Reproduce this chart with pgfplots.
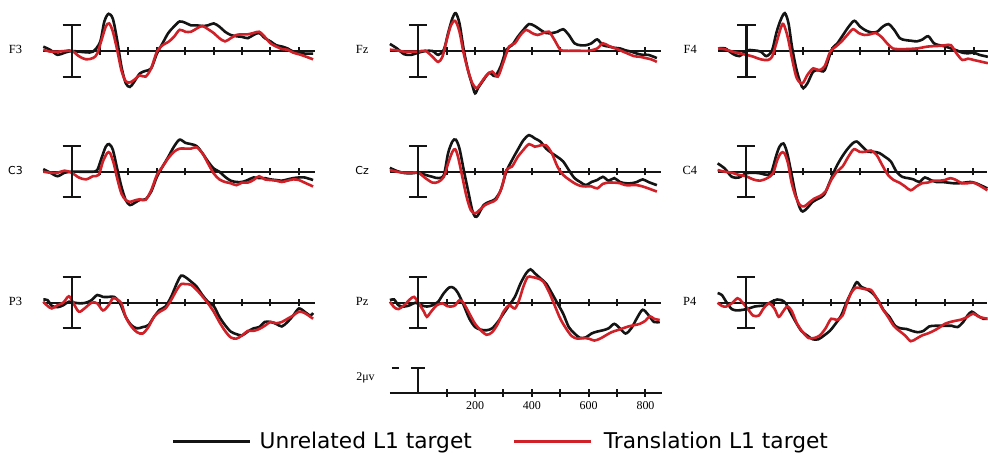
\documentclass[border=0pt]{standalone}
\usepackage{fontspec}
\setmainfont{Liberation Serif}
\newfontfamily\legendfont{DejaVu Sans}
\usepackage{pgfplots}
\pgfplotsset{compat=1.18}
\definecolor{erpred}{RGB}{208,32,40}
\definecolor{erpblack}{RGB}{20,20,20}
\pgfplotsset{
 erp/.style={
  x=0.284bp, y=12.83bp,
  xmin=-100, xmax=855, ymin=-4, ymax=4,
  axis x line=middle, axis y line=none,
  axis line style={-, line width=2.2bp, erpblack},
  xtick={100,200,...,800}, xticklabels={},
  major tick length=7.5bp, tick align=center,
  xtick style={line width=2bp, erpblack},
  ytick=\empty,
  clip=false, anchor=south west,
 },
 blk/.style={erpblack, line width=2.6bp, smooth, no markers},
 rd/.style={erpred, line width=2.6bp, smooth, no markers},
}
\newcommand{\erpbar}{%
 \draw[line width=2.2bp, erpblack] (axis cs:0,-2) -- (axis cs:0,2);
 \draw[line width=2.2bp, erpblack] (axis cs:-32,2) -- (axis cs:32,2);
 \draw[line width=2.2bp, erpblack] (axis cs:-32,-2) -- (axis cs:32,-2);}
\newcommand{\chlabel}[1]{\node[font=\fontsize{12.5}{14}\selectfont] at (axis cs:-198,0.1) {#1};}
\newcommand{\chlabelsf}[1]{\node[font=\legendfont\fontsize{11}{13}\selectfont] at (axis cs:-198,0.1) {#1};}
\begin{document}
\begin{tikzpicture}
\useasboundingbox (0,0) rectangle (988bp,-453bp);
% ---------------- F3
\begin{axis}[erp, at={(43.3bp,-102.32bp)}]
\addplot[blk] coordinates {(-100,0.34)(-75,0.08)(-50,-0.3)(-25,-0.13)(0,0)(25,-0.05)(50,-0.1)(75,-0.05)(100,0.7)(115,2.3)(130,2.9)(145,2.5)(160,0.85)(175,-1.2)(190,-2.5)(205,-2.8)(220,-2.4)(240,-1.75)(260,-1.55)(280,-1.35)(300,-0.2)(320,0.6)(340,1.4)(360,1.9)(380,2.3)(400,2.2)(420,2.0)(440,2.0)(460,1.95)(480,2.0)(500,2.15)(520,1.9)(540,1.5)(560,1.25)(580,1.15)(600,1.1)(620,1.0)(640,1.25)(660,1.4)(680,1.0)(700,0.75)(720,0.45)(740,0.35)(760,0.2)(780,-0.05)(800,-0.13)(820,-0.2)(850,-0.2)};
\addplot[rd] coordinates {(-100,0.1)(-75,-0.05)(-50,-0.05)(-25,0)(0,0.03)(25,-0.4)(50,-0.65)(75,-0.55)(90,-0.2)(105,0.85)(120,1.9)(132,2.15)(145,1.5)(160,0.1)(175,-1.5)(190,-2.35)(205,-2.45)(220,-2.25)(240,-1.9)(260,-2.0)(280,-1.35)(300,-0.05)(320,0.45)(340,0.7)(360,1.1)(380,1.65)(400,1.5)(420,1.5)(440,1.75)(460,1.95)(480,1.7)(500,1.4)(520,1.0)(540,0.75)(560,1.0)(580,1.25)(600,1.3)(620,1.3)(640,1.4)(660,1.5)(680,1.1)(700,0.6)(720,0.35)(740,0.15)(760,0.1)(780,-0.13)(800,-0.25)(820,-0.4)(850,-0.65)};
\erpbar \chlabel{F3}
\end{axis}
% ---------------- Fz
\begin{axis}[erp, at={(389.9bp,-102.32bp)}]
\addplot[blk] coordinates {(-100,0.55)(-75,0.2)(-50,-0.25)(-25,-0.3)(0,-0.13)(25,0)(50,0)(70,-0.3)(90,0.1)(105,1.4)(120,2.55)(132,2.95)(145,2.15)(160,0.1)(175,-1.5)(190,-2.65)(200,-3.3)(210,-2.9)(230,-2.25)(250,-1.7)(270,-1.95)(290,-1.2)(310,0.1)(330,0.45)(350,1.1)(370,1.65)(390,2.1)(410,1.95)(430,1.65)(450,1.4)(470,1.4)(490,1.5)(510,1.7)(530,1.25)(550,0.6)(570,0.45)(590,0.45)(610,0.6)(630,0.9)(650,0.45)(670,0.35)(690,0.25)(710,0.2)(730,0.05)(750,-0.05)(770,-0.2)(790,-0.3)(810,-0.3)(840,-0.55)};
\addplot[rd] coordinates {(-100,0.1)(-75,0.05)(-50,-0.05)(-25,-0.05)(0,-0.05)(25,0.02)(50,-0.45)(70,-0.85)(85,-0.45)(100,0.85)(115,2.0)(130,2.35)(145,1.5)(160,-0.2)(175,-1.5)(190,-2.5)(205,-2.9)(220,-2.5)(240,-1.9)(260,-1.6)(280,-2.0)(300,-0.85)(320,0.35)(340,0.6)(360,1.25)(380,1.65)(400,1.4)(420,1.25)(440,1.4)(460,1.5)(480,0.85)(500,0.1)(520,0.02)(560,0.02)(600,0.02)(630,0.2)(650,0.6)(670,0.4)(700,0.15)(730,-0.13)(760,-0.4)(780,-0.45)(800,-0.55)(820,-0.65)(840,-0.85)};
\erpbar \chlabel{Fz}
\end{axis}
% ---------------- F4
\begin{axis}[erp, xmax=850, at={(718.1bp,-102.32bp)}]
\addplot[blk] coordinates {(-100,0.2)(-75,0.2)(-50,-0.2)(-25,-0.4)(0,0.05)(25,0.05)(50,-0.05)(70,-0.4)(90,0.05)(105,1.4)(120,2.4)(135,2.95)(148,2.15)(160,0.35)(175,-1.35)(190,-2.5)(200,-2.9)(215,-2.5)(235,-1.6)(255,-1.5)(275,-1.5)(300,0.1)(320,0.6)(340,1.25)(360,1.9)(380,2.35)(400,1.9)(420,1.6)(440,1.45)(460,1.5)(480,1.9)(500,2.1)(520,1.65)(540,1.0)(560,0.85)(580,0.8)(600,0.75)(620,0.9)(640,1.15)(660,0.6)(680,0.45)(700,0.35)(720,0.2)(740,0.05)(760,-0.13)(780,-0.18)(800,-0.13)(820,-0.3)(850,-0.45)};
\addplot[rd] coordinates {(-100,0.2)(-75,0.13)(-50,-0.05)(-25,-0.18)(0,-0.3)(25,-0.45)(50,-0.65)(75,-0.7)(90,-0.45)(105,0.6)(120,1.75)(130,2.1)(145,1.1)(160,-0.55)(175,-2.0)(190,-2.5)(200,-2.45)(215,-1.85)(235,-1.35)(255,-1.5)(275,-1.2)(295,-0.05)(315,0.35)(335,0.75)(355,1.25)(375,1.7)(395,1.4)(415,1.25)(435,1.3)(455,1.4)(475,1.1)(495,0.6)(515,0.2)(535,0.15)(560,0.15)(600,0.2)(640,0.35)(680,0.4)(700,0.45)(720,0.45)(740,-0.2)(760,-0.7)(780,-0.6)(800,-0.7)(820,-0.8)(850,-0.95)};
\erpbar \chlabel{F4}
\end{axis}
% ---------------- C3
\begin{axis}[erp, at={(43.3bp,-223.02bp)}]
\addplot[blk] coordinates {(-100,0.2)(-75,-0.08)(-50,-0.35)(-25,-0.08)(0,0)(25,0)(50,0)(75,0)(90,0.13)(105,1.05)(120,1.95)(132,2.15)(145,1.7)(160,0.25)(175,-1.15)(190,-2.2)(205,-2.6)(220,-2.45)(240,-2.2)(260,-2.15)(280,-1.55)(300,-0.4)(320,0.4)(340,1.15)(360,1.95)(380,2.5)(400,2.25)(420,2.15)(440,2.0)(460,1.45)(480,0.8)(500,0.25)(520,0)(540,-0.4)(560,-0.7)(580,-0.8)(600,-0.8)(620,-0.65)(640,-0.45)(660,-0.5)(680,-0.5)(700,-0.6)(720,-0.65)(740,-0.7)(760,-0.6)(780,-0.5)(800,-0.45)(820,-0.45)(850,-0.65)};
\addplot[rd] coordinates {(-100,0)(-75,-0.08)(-50,-0.08)(-25,0.08)(0,-0.08)(25,-0.45)(50,-0.6)(75,-0.35)(95,-0.25)(110,0.8)(125,1.45)(135,1.45)(148,0.65)(160,-0.5)(175,-1.7)(190,-2.2)(205,-2.35)(220,-2.25)(240,-2.15)(260,-2.2)(280,-1.45)(300,-0.25)(320,0.4)(340,1.05)(360,1.55)(380,1.8)(400,1.8)(420,1.8)(440,1.9)(460,1.45)(480,0.65)(500,-0.13)(520,-0.6)(540,-0.8)(560,-0.9)(580,-1.05)(600,-0.85)(620,-0.85)(640,-0.65)(660,-0.35)(680,-0.6)(700,-0.65)(720,-0.7)(740,-0.8)(760,-0.7)(780,-0.6)(800,-0.65)(820,-0.85)(850,-1.15)};
\erpbar \chlabelsf{C3}
\end{axis}
% ---------------- Cz
\begin{axis}[erp, at={(389.9bp,-223.02bp)}]
\addplot[blk] coordinates {(-100,0.3)(-75,0.05)(-50,-0.1)(-25,-0.13)(0,-0.08)(25,-0.25)(50,-0.4)(70,-0.5)(90,-0.25)(105,1.45)(120,2.35)(132,2.5)(145,1.8)(160,0.13)(175,-1.45)(190,-3.0)(200,-3.5)(210,-3.4)(230,-2.6)(250,-2.35)(270,-2.15)(290,-1.45)(310,0)(330,0.9)(350,1.7)(370,2.45)(390,2.85)(410,2.6)(430,2.35)(450,1.8)(470,1.45)(490,1.15)(510,0.8)(530,0.13)(550,-0.5)(570,-0.8)(590,-1.05)(610,-0.8)(630,-0.65)(650,-0.4)(670,-0.7)(690,-0.5)(710,-0.8)(730,-0.9)(750,-0.9)(770,-0.8)(790,-0.6)(810,-0.8)(840,-1.05)};
\addplot[rd] coordinates {(-100,0.13)(-75,0)(-50,-0.08)(-25,-0.08)(0,-0.08)(25,-0.5)(50,-0.85)(70,-0.8)(90,-0.4)(105,0.65)(120,1.55)(130,1.75)(140,1.15)(155,-0.4)(170,-1.95)(185,-3.0)(200,-3.25)(215,-3.0)(235,-2.6)(255,-2.4)(275,-2.15)(295,-1.15)(310,0.13)(330,0.4)(350,1.15)(370,1.7)(390,2.15)(410,1.95)(430,2.05)(450,2.05)(470,1.45)(490,0.4)(510,-0.25)(530,-0.6)(550,-0.9)(570,-1.1)(590,-1.15)(610,-1.15)(630,-1.3)(650,-0.95)(670,-0.85)(690,-0.85)(710,-0.9)(730,-1.05)(750,-1.05)(770,-1.05)(790,-1.15)(810,-1.3)(840,-1.55)};
\erpbar \chlabelsf{Cz}
\end{axis}
% ---------------- C4
\begin{axis}[erp, xmax=850, at={(717.6bp,-223.02bp)}]
\addplot[blk] coordinates {(-100,0.65)(-75,0.25)(-50,-0.4)(-25,-0.45)(0,-0.13)(25,-0.08)(50,-0.13)(75,-0.25)(90,0)(105,1.15)(118,1.95)(132,2.2)(145,1.45)(160,-0.13)(175,-1.8)(190,-2.85)(200,-3.1)(215,-2.85)(235,-2.35)(255,-2.1)(275,-1.8)(295,-0.8)(315,0.25)(335,1.05)(355,1.7)(375,2.2)(390,2.35)(410,1.95)(430,1.55)(450,1.55)(470,1.45)(490,1.15)(510,0.8)(530,0)(550,-0.4)(570,-0.5)(590,-0.6)(610,-0.8)(630,-0.45)(650,-0.65)(670,-0.8)(690,-0.8)(710,-0.85)(730,-0.9)(750,-0.9)(770,-0.85)(790,-0.8)(810,-0.9)(850,-1.3)};
\addplot[rd] coordinates {(-100,0.13)(-75,0)(-50,-0.08)(-25,-0.25)(0,-0.35)(25,-0.6)(50,-0.7)(75,-0.5)(95,-0.13)(110,0.9)(123,1.45)(135,1.45)(148,0.65)(160,-0.8)(175,-1.95)(190,-2.6)(205,-2.7)(220,-2.45)(240,-2.1)(260,-1.9)(280,-1.55)(300,-0.65)(320,0)(340,0.4)(360,1.15)(380,1.75)(400,1.55)(420,1.55)(440,1.65)(460,1.3)(480,0.5)(500,-0.25)(520,-0.65)(540,-0.85)(560,-1.15)(580,-1.45)(600,-1.15)(620,-0.9)(640,-0.85)(660,-0.7)(680,-0.7)(700,-0.65)(720,-0.5)(740,-0.65)(760,-0.9)(780,-0.9)(800,-0.85)(820,-1.05)(850,-1.45)};
\erpbar \chlabel{C4}
\end{axis}
% ---------------- P3
\begin{axis}[erp, at={(43.3bp,-354.02bp)}]
\addplot[blk] coordinates {(-100,0.25)(-85,0.2)(-70,-0.25)(-50,-0.35)(-30,-0.2)(-10,0.08)(10,0)(30,-0.05)(50,0)(70,0.2)(90,0.6)(110,0.45)(130,0.45)(150,0.45)(170,-0.05)(190,-1.1)(210,-1.75)(230,-2.0)(250,-1.9)(270,-1.75)(290,-1.1)(310,-0.55)(330,-0.3)(350,0.45)(370,1.5)(385,2.1)(400,2.0)(420,1.65)(440,1.25)(460,0.6)(480,0.08)(500,-0.25)(520,-1.1)(540,-1.75)(560,-2.25)(580,-2.45)(600,-2.55)(620,-2.25)(640,-2.0)(660,-1.9)(680,-1.5)(700,-1.5)(720,-1.65)(740,-1.85)(760,-1.5)(780,-1.0)(800,-0.45)(820,-0.7)(840,-1.0)(850,-0.8)};
\addplot[rd] coordinates {(-100,0.08)(-85,-0.25)(-70,-0.45)(-50,-0.2)(-30,0)(-10,0.5)(5,0)(25,-0.7)(45,-0.45)(70,0)(90,-0.05)(110,-0.6)(130,-0.2)(145,0.35)(160,0.25)(175,-0.05)(190,-1.1)(210,-1.85)(230,-2.3)(250,-2.4)(270,-1.9)(290,-1.1)(310,-0.7)(330,-0.45)(350,0.2)(370,1.0)(385,1.45)(400,1.45)(420,1.4)(440,1.0)(460,0.5)(480,-0.05)(500,-0.7)(520,-1.5)(540,-2.2)(560,-2.7)(580,-2.8)(600,-2.55)(620,-2.2)(640,-2.2)(660,-2.05)(680,-1.8)(700,-1.5)(720,-1.6)(740,-1.5)(760,-1.25)(780,-1.0)(800,-0.7)(820,-0.8)(850,-1.25)};
\erpbar \chlabel{P3}
\end{axis}
% ---------------- Pz
\begin{axis}[erp, at={(389.9bp,-354.02bp)}]
\addplot[blk] coordinates {(-100,0.2)(-85,0.25)(-70,-0.2)(-50,-0.3)(-30,-0.2)(-10,0)(10,-0.2)(30,-0.3)(50,-0.2)(70,0.08)(90,0.75)(110,1.2)(125,1.15)(140,0.75)(160,-0.2)(180,-1.25)(200,-1.9)(220,-2.1)(240,-2.15)(260,-2.0)(280,-1.5)(300,-0.85)(320,-0.2)(340,0.45)(360,1.5)(380,2.3)(395,2.6)(410,2.3)(430,1.9)(450,1.5)(470,0.75)(490,-0.05)(510,-0.85)(530,-1.9)(550,-2.4)(570,-2.75)(590,-2.7)(610,-2.4)(630,-2.25)(650,-2.15)(670,-2.0)(690,-1.65)(710,-2.0)(730,-2.4)(750,-2.0)(770,-1.2)(790,-0.55)(810,-0.95)(830,-1.5)(850,-1.5)};
\addplot[rd] coordinates {(-100,0.08)(-85,-0.35)(-70,-0.5)(-50,-0.2)(-30,0.25)(-15,0.45)(0,0)(20,-0.7)(30,-1.1)(45,-0.7)(65,-0.2)(85,-0.05)(100,-0.25)(115,-0.3)(130,-0.2)(145,0.2)(160,-0.05)(180,-0.85)(200,-1.65)(220,-2.15)(240,-2.5)(260,-2.3)(280,-1.65)(300,-0.7)(320,-0.2)(340,-0.45)(355,0.2)(370,1.25)(385,2.0)(400,2.0)(420,1.9)(440,1.65)(460,0.85)(480,-0.2)(500,-1.25)(520,-2.0)(540,-2.6)(560,-2.8)(580,-2.75)(600,-2.8)(620,-2.95)(640,-2.8)(660,-2.55)(680,-2.3)(700,-2.15)(720,-2.0)(740,-1.85)(760,-1.75)(780,-1.65)(800,-1.4)(815,-1.05)(830,-1.25)(850,-1.35)};
\erpbar \chlabel{Pz}
\end{axis}
% ---------------- P4
\begin{axis}[erp, xmax=850, at={(717.6bp,-354.02bp)}]
\addplot[blk] coordinates {(-100,0.75)(-85,0.6)(-70,0.08)(-50,-0.5)(-30,-0.6)(-10,-0.55)(10,-0.45)(30,-0.3)(50,-0.25)(70,-0.18)(90,0.08)(110,0.25)(125,0.2)(140,-0.05)(155,-0.7)(175,-1.5)(195,-2.2)(215,-2.55)(235,-2.85)(255,-2.85)(275,-2.55)(295,-2.2)(315,-1.65)(335,-1.0)(355,0.08)(375,1.0)(390,1.6)(405,1.25)(425,1.05)(445,0.75)(465,0.2)(485,-0.6)(505,-1.1)(525,-1.8)(545,-2.0)(565,-2.05)(585,-2.2)(605,-2.3)(625,-2.2)(645,-1.85)(665,-1.8)(685,-1.8)(705,-1.8)(725,-1.8)(745,-1.9)(765,-1.5)(780,-1.0)(795,-0.7)(815,-1.0)(835,-1.25)(850,-1.25)};
\addplot[rd] coordinates {(-100,0)(-85,-0.25)(-70,-0.3)(-50,-0.05)(-30,0.35)(-15,0.08)(5,-0.45)(25,-1.0)(45,-1.0)(60,-0.5)(80,-0.05)(100,-0.45)(115,-1.1)(130,-0.7)(145,-0.3)(160,-0.6)(180,-1.65)(200,-2.3)(220,-2.75)(240,-2.75)(260,-2.55)(280,-2.0)(300,-1.25)(320,-1.35)(340,-1.0)(355,-0.05)(370,0.75)(385,1.15)(400,1.15)(420,1.05)(440,1.0)(460,0.35)(480,-0.45)(500,-1.1)(520,-1.8)(540,-2.2)(560,-2.55)(580,-3.0)(600,-2.8)(620,-2.55)(640,-2.4)(660,-2.2)(680,-1.95)(700,-1.65)(720,-1.5)(740,-1.4)(760,-1.3)(780,-1.1)(800,-0.85)(820,-1.1)(850,-1.25)};
\erpbar \chlabel{P4}
\end{axis}
% ---------------- scale + legend
\begin{axis}[erp, xmax=858, at={(389.9bp,-444.32bp)},
  xticklabels={,200,,400,,600,,800},
  xticklabel style={font=\fontsize{12}{13}\selectfont, yshift=-1bp},
  legend columns=2,
  legend style={at={(-0.803,0.032)}, anchor=west, draw=none, fill=none, inner sep=0pt,
    font=\legendfont\fontsize{21.8}{25}\selectfont,
    /tikz/every even column/.append style={column sep=39bp}},
  legend image code/.code={\draw[#1] (0bp,0bp) -- (77bp,0bp);},
]
\addlegendimage{erpblack, line width=3bp}
\addlegendentry{\hspace{6bp}Unrelated L1 target}
\addlegendimage{erpred, line width=3bp}
\addlegendentry{\hspace{9bp}Translation L1 target}
\draw[line width=2.2bp, erpblack] (axis cs:0,0) -- (axis cs:0,1.95);
\draw[line width=2.2bp, erpblack] (axis cs:-25,1.95) -- (axis cs:25,1.95);
\draw[line width=2bp, erpblack] (axis cs:-93,1.95) -- (axis cs:-68,1.95);
\node[font=\fontsize{12}{13}\selectfont] at (axis cs:-186,1.2) {2μv};
\end{axis}
\end{tikzpicture}
\end{document}
